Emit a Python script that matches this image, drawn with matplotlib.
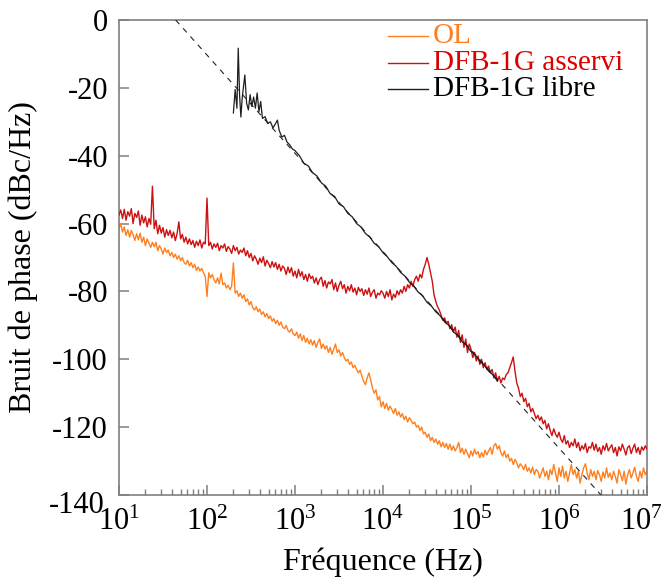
import numpy as np
import matplotlib
matplotlib.use("Agg")
import matplotlib.pyplot as plt
import matplotlib.transforms as mtransforms
from matplotlib.ticker import LogLocator, LogFormatterSciNotation, NullFormatter

plt.rcParams['font.family'] = ['Liberation Serif', 'DejaVu Serif']
plt.rcParams['mathtext.fontset'] = 'custom'
plt.rcParams['mathtext.rm'] = 'Liberation Serif'
plt.rcParams['mathtext.it'] = 'Liberation Serif:italic'

# ---------------- data ----------------
# common sampling grid for OL and DFB-1G asservi: 10 Hz .. 10 MHz, 0.02 decade step
grid_freq = np.logspace(1, 7, 301)

asservi_db = [
    -57.5, -56.0, -58.5, -55.8, -59.0, -56.5, -57.8, -55.6, -60.0, -57.0,
    -58.2, -56.3, -60.5, -57.5, -59.8, -58.0, -61.0, -58.5, -60.2, -49.0,
    -61.5, -59.0, -63.0, -60.5, -62.8, -61.2, -64.0, -61.8, -63.5, -62.0,
    -64.2, -62.5, -65.0, -63.0, -59.5, -64.5, -63.2, -65.5, -64.0, -66.0,
    -64.5, -66.2, -65.0, -67.0, -65.2, -66.5, -64.8, -67.2, -65.5, -66.0,
    -52.5, -66.5, -65.5, -67.5, -66.0, -67.0, -65.8, -68.0, -66.5, -67.2,
    -66.0, -68.2, -66.8, -67.5, -68.8, -66.5, -68.0, -67.0, -69.0, -67.8,
    -68.5, -67.2, -69.5, -68.0, -70.0, -68.8, -71.0, -69.5, -70.5, -72.0,
    -70.2, -71.5, -69.8, -72.5, -70.8, -71.8, -73.0, -71.2, -72.8, -71.5,
    -73.5, -72.0, -74.0, -72.5, -73.2, -75.0, -72.8, -74.5, -73.0, -75.5,
    -74.0, -76.0, -73.5, -75.5, -74.2, -76.5, -75.0, -77.0, -74.8, -76.2,
    -75.5, -77.5, -76.0, -78.0, -76.5, -75.8, -78.5, -76.8, -79.0, -77.2,
    -77.8, -76.5, -79.5, -77.5, -80.0, -78.2, -77.0, -79.2, -78.0, -80.5,
    -78.5, -79.8, -78.0, -80.2, -79.0, -81.0, -78.8, -80.0, -79.2, -81.2,
    -79.5, -80.8, -79.0, -81.5, -80.2, -79.5, -82.0, -80.5, -81.0, -79.8,
    -80.5, -82.0, -80.0, -81.5, -79.5, -82.5, -80.8, -81.8, -79.8, -81.0,
    -79.5, -80.5, -78.5, -80.0, -78.0, -79.0, -77.0, -78.5, -76.5, -75.5,
    -77.0, -75.0, -76.0, -73.5, -72.0, -70.0, -72.0, -74.5, -77.0, -81.0,
    -83.0, -84.5, -85.5, -87.0, -88.5, -87.8, -89.5, -88.8, -91.0, -89.8,
    -92.0, -90.5, -93.5, -91.5, -95.0, -92.8, -96.5, -94.0, -98.0, -95.5,
    -97.0, -99.5, -98.0, -100.5, -99.0, -101.5, -100.0, -102.5, -101.0, -103.0,
    -102.0, -104.0, -103.0, -105.5, -104.0, -106.5, -105.0, -107.0, -105.5, -106.0,
    -104.5, -104.0, -102.5, -101.0, -99.3, -103.5, -107.0, -108.5, -111.0, -110.0,
    -112.5, -111.5, -114.0, -113.0, -115.5, -114.5, -116.0, -117.5, -116.5, -118.0,
    -117.0, -119.0, -118.0, -120.5, -119.0, -121.0, -122.5, -120.5, -122.0, -123.0,
    -121.5, -123.5, -124.5, -122.5, -125.0, -124.0, -126.0, -124.5, -125.5, -123.5,
    -126.0, -124.5, -127.0, -125.5, -126.5, -124.8, -127.5, -125.8, -126.2, -124.5,
    -126.8, -125.0, -127.2, -126.0, -128.0, -125.5, -126.8, -124.8, -127.0, -126.0,
    -125.2, -127.5, -126.0, -128.5, -125.8, -127.0, -125.0, -126.5, -128.2, -126.0,
    -125.5, -127.8, -126.2, -125.0, -127.5, -126.0, -128.0, -125.8, -126.8, -125.5,
    -126.5,
]

ol_db = [
    -61.5, -60.0, -62.5, -61.0, -63.5, -61.8, -64.0, -62.0, -63.2, -65.0,
    -63.0, -64.8, -62.8, -65.5, -64.0, -66.5, -64.5, -65.8, -67.0, -65.5,
    -66.8, -65.5, -68.0, -66.5, -67.5, -69.0, -67.2, -68.5, -67.8, -69.5,
    -68.5, -70.0, -69.0, -70.5, -69.5, -71.0, -70.0, -71.5, -72.0, -70.8,
    -72.5, -71.5, -73.0, -72.0, -73.8, -72.8, -74.0, -73.2, -74.5, -75.5,
    -81.5, -74.5, -76.0, -75.0, -76.5, -77.5, -76.0, -77.8, -74.6, -78.0,
    -77.5, -79.0, -78.2, -79.5, -78.5, -71.6, -80.5, -79.8, -81.5, -80.5,
    -82.0, -81.0, -83.0, -82.2, -84.0, -83.0, -84.8, -85.5, -84.5, -86.0,
    -85.2, -86.8, -86.0, -87.5, -86.5, -88.0, -87.2, -88.8, -88.0, -89.5,
    -88.5, -90.0, -89.0, -90.5, -91.0, -90.0, -91.5, -92.0, -91.0, -92.5,
    -93.0, -92.0, -93.8, -92.5, -94.5, -93.0, -95.0, -93.8, -95.5, -94.2,
    -95.8, -94.5, -96.5, -95.0, -94.0, -96.8, -95.5, -97.0, -96.0, -98.0,
    -96.5, -98.5, -97.0, -95.5, -98.0, -97.2, -99.0, -98.0, -99.5, -100.5,
    -100.0, -101.5, -100.8, -102.5, -101.8, -103.0, -104.0, -103.2, -105.0, -106.5,
    -107.5, -105.5, -104.0, -106.0, -108.5, -110.0, -109.0, -112.0, -111.0, -114.0,
    -112.5, -114.5, -113.0, -115.0, -113.8, -114.8, -116.0, -114.5, -116.5, -115.5,
    -117.0, -116.0, -117.8, -116.8, -118.5, -117.2, -118.0, -119.0, -118.5, -120.0,
    -119.5, -121.0, -120.0, -122.0, -121.5, -123.0, -122.0, -124.0, -123.0, -124.5,
    -123.5, -125.0, -124.0, -125.8, -124.5, -126.0, -124.8, -126.5, -125.0, -126.8,
    -125.5, -127.0, -126.0, -124.5, -127.5, -126.2, -128.0, -126.5, -127.8, -129.0,
    -127.0, -128.5, -126.5, -128.0, -127.2, -129.0, -127.5, -128.8, -126.8, -128.2,
    -127.0, -126.0, -128.0, -125.5, -124.8, -126.5, -125.5, -127.5, -128.5, -127.0,
    -129.0, -128.0, -130.0, -129.2, -131.0, -129.5, -130.5, -132.0, -130.8, -131.5,
    -132.5, -131.0, -133.0, -132.0, -133.5, -131.8, -134.0, -132.5, -133.0, -135.0,
    -133.5, -132.0, -134.5, -133.0, -135.5, -132.5, -134.0, -131.0, -133.5, -136.0,
    -132.0, -134.5, -131.5, -135.0, -133.0, -136.0, -133.5, -131.0, -134.0, -132.5,
    -135.0, -133.0, -136.5, -134.0, -132.0, -130.8, -133.5, -135.5, -132.5, -134.5,
    -133.0, -135.5, -132.8, -134.0, -136.0, -133.2, -135.0, -132.0, -134.8, -133.5,
    -135.5, -133.0, -134.5, -136.5, -132.5, -134.0, -135.8, -133.0, -136.8, -134.0,
    -132.5, -135.0, -133.5, -131.8, -134.5, -136.0, -133.0, -135.0, -132.0, -134.0,
    -133.0,
]

# DFB-1G libre (free-running laser), log10 of frequency and level
libre_logf = [
    2.30, 2.32, 2.34, 2.355, 2.37, 2.385, 2.40, 2.43, 2.45, 2.47,
    2.49, 2.51, 2.53, 2.55, 2.57, 2.59, 2.61, 2.63, 2.66, 2.69,
    2.72, 2.75, 2.78, 2.80, 2.82, 2.85, 2.88, 2.91, 2.94, 2.97,
    3.00, 3.05, 3.10, 3.15, 3.20, 3.25, 3.30, 3.35, 3.40, 3.45,
    3.50, 3.55, 3.60, 3.65, 3.70, 3.75, 3.80, 3.85, 3.90, 3.95,
    4.00, 4.05, 4.10, 4.15, 4.20, 4.25, 4.30, 4.35, 4.40, 4.45,
    4.50, 4.55, 4.60, 4.65, 4.70, 4.75, 4.80, 4.85, 4.90, 4.95,
    5.00, 5.05, 5.10, 5.15, 5.20, 5.25, 5.30,
]
libre_db = [
    -27.4, -20.5, -26.0, -8.3, -22.0, -28.6, -23.0, -16.2, -24.5, -26.5,
    -22.0, -25.5, -22.7, -26.0, -21.5, -27.0, -24.0, -29.0, -28.5, -30.5,
    -30.0, -31.8, -30.5, -29.5, -32.5, -34.5, -34.0, -36.0, -36.8, -38.0,
    -38.5, -40.0, -42.2, -43.0, -45.0, -46.0, -48.0, -49.0, -51.2, -52.0,
    -54.2, -55.0, -57.0, -58.0, -60.0, -61.0, -62.9, -64.0, -65.8, -66.8,
    -68.6, -69.8, -71.5, -72.6, -74.4, -75.5, -77.3, -78.5, -80.2, -81.3,
    -83.2, -84.3, -86.0, -87.2, -89.0, -90.0, -91.9, -93.0, -94.8, -95.9,
    -97.7, -98.8, -100.6, -101.7, -103.5, -104.6, -106.4,
]

# 1/f^3 asymptote (dashed)
asym_freq = [44.0, 3.0e6]
asym_db = [0.0, -140.0]

labels = ['OL', 'DFB-1G asservi', 'DFB-1G libre']
line_colors = ['#ff7f1e', '#cc1111', '#1e1e1e']
text_colors = ['#ff7f1e', '#dd0000', '#000000']

x_ticks = [1e1, 1e2, 1e3, 1e4, 1e5, 1e6, 1e7]
y_ticks = [0, -20, -40, -60, -80, -100, -120, -140]

# ---------------- figure ----------------
fig = plt.figure(figsize=(6.65, 5.83), dpi=100)
ax = fig.add_axes([119/665, 88/583, 528/665, 475/583])

ax.plot(grid_freq, ol_db, color=line_colors[0], lw=1.0, zorder=2)
ax.plot(grid_freq, asservi_db, color=line_colors[1], lw=1.0, zorder=3)
ax.plot(asym_freq, asym_db, color='#222222', lw=0.8, ls=(0, (5, 5)), zorder=4)
ax.plot(10 ** np.array(libre_logf), libre_db, color=line_colors[2], lw=0.9, zorder=5)

ax.set_xscale('log')
ax.set_xlim(1e1, 1e7)
ax.set_ylim(-140, 0)
ax.set_xticks(x_ticks)
ax.xaxis.set_major_formatter(LogFormatterSciNotation())
ax.xaxis.set_minor_locator(LogLocator(base=10, subs=np.arange(2, 10), numticks=100))
ax.xaxis.set_minor_formatter(NullFormatter())
ax.set_yticks(y_ticks)
ax.set_yticklabels([str(v) for v in y_ticks])

spine_col = '#7f7f7f'
for s in ax.spines.values():
    s.set_color(spine_col)
    s.set_linewidth(1.2)
ax.tick_params(which='both', direction='in', colors=spine_col, labelcolor='black',
               top=False, right=False)
ax.tick_params(which='major', length=7, width=1.1)
ax.tick_params(which='minor', length=4, width=1.0)
ax.tick_params(axis='x', pad=9, labelsize=22)
ax.tick_params(axis='y', pad=8, labelsize=22)

ax.set_xlabel('Fréquence (Hz)', fontsize=23, labelpad=8)
ax.set_ylabel('Bruit de phase (dBc/Hz)', fontsize=23, labelpad=8)

# shift the bottom y label (-140) slightly downward as in the reference
for lab in ax.get_yticklabels():
    if lab.get_text() == '-140':
        lab.set_transform(lab.get_transform() +
                          mtransforms.ScaledTranslation(-2/72, -5/72, fig.dpi_scale_trans))

# keep the last x tick label (10^7) inside the figure
xlabs = ax.get_xticklabels()
xlabs[-1].set_transform(xlabs[-1].get_transform() +
                        mtransforms.ScaledTranslation(-4/72, 0, fig.dpi_scale_trans))

# manual legend (coloured text, short line handles)
row_y = [0.966, 0.910, 0.854]
for yy, lab, lc, tc in zip(row_y, labels, line_colors, text_colors):
    ax.plot([0.509, 0.585], [yy, yy], transform=ax.transAxes, color=lc, lw=1.0,
            clip_on=False, zorder=6)
    ax.text(0.595, yy, lab, transform=ax.transAxes, color=tc, fontsize=21,
            va='center', ha='left', zorder=6)

fig.savefig('out.png', dpi=100)
